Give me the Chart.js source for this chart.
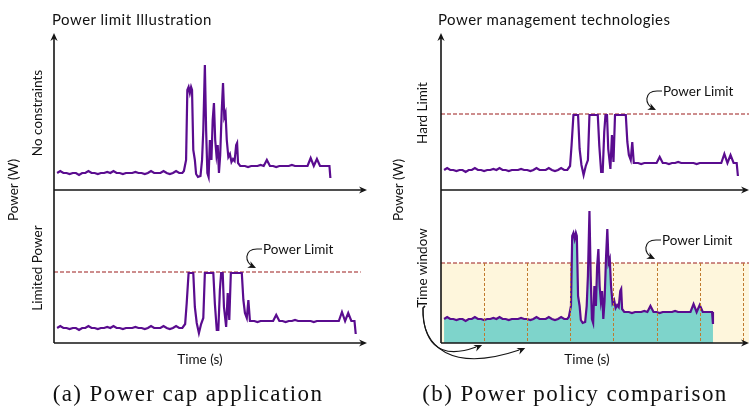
<!DOCTYPE html>
<html>
<head>
<meta charset="utf-8">
<script src="https://cdn.jsdelivr.net/npm/chart.js@4.4.1/dist/chart.umd.min.js"></script>
<style>
  body { margin: 0; width: 749px; height: 408px; background: #fff; position: relative; overflow: hidden;
         font-family: Lato, "Noto Sans", sans-serif; color: #111; }
  canvas { position: absolute; }
  .t { position: absolute; white-space: nowrap; font-size: 13.5px; line-height: 1; }
  .r { transform: translate(-50%, -50%) rotate(-90deg); }
  .c { transform: translate(-50%, -50%); }
  .l { transform: translateY(-50%); }
  .ttl { font-size: 15px; letter-spacing: 0.5px; }
  .cap { position: absolute; white-space: nowrap; font-family: "Liberation Serif", serif; font-size: 23px;
         letter-spacing: 1.4px; line-height: 1; transform: translate(-50%, -50%); }
</style>
</head>
<body>
<canvas id="aTop" width="375" height="170" style="left:0;top:25px"></canvas>
<canvas id="aBot" width="375" height="160" style="left:0;top:190px"></canvas>
<canvas id="bTop" width="374" height="170" style="left:375px;top:25px"></canvas>
<canvas id="bBot" width="374" height="190" style="left:375px;top:190px"></canvas>

<div class="t l ttl" style="left:52px;top:19px">Power limit Illustration</div>
<div class="t l ttl" style="left:438px;top:19px">Power management technologies</div>

<div class="t r" style="left:14px;top:190px">Power (W)</div>
<div class="t r" style="left:38px;top:113px">No constraints</div>
<div class="t r" style="left:38px;top:268px">Limited Power</div>
<div class="t r" style="left:399px;top:190px">Power (W)</div>
<div class="t r" style="left:423px;top:113px">Hard Limit</div>
<div class="t r" style="left:423px;top:268px">Time window</div>

<div class="t l" style="left:263px;top:250px">Power Limit</div>
<div class="t l" style="left:663px;top:92px">Power Limit</div>
<div class="t l" style="left:662px;top:241px">Power Limit</div>

<div class="t c" style="left:200px;top:360px">Time (s)</div>
<div class="t c" style="left:587px;top:360px">Time (s)</div>

<div class="cap" style="left:188px;top:393px">(a) Power cap application</div>
<div class="cap" style="left:575px;top:393px">(b) Power policy comparison</div>

<script>
// idle phase, shared by both runs
const baseTime = [1, 2, 3, 4, 5, 6, 7, 8, 9, 10, 11, 12, 13, 14, 15, 16, 17, 18, 19, 20,
  21, 22, 23, 24, 25, 26, 27, 28, 29, 30, 31, 32, 33, 34, 35, 36, 37, 38, 39, 40, 41];
const basePower = [17, 19, 17, 17, 16, 17, 17, 15, 17, 17, 19, 17, 17, 16, 17, 17, 18, 17, 19, 17,
  17, 16, 17, 17, 17, 18, 17, 17, 16, 17, 19, 17, 17, 17, 19, 17, 16, 17, 19, 17, 17];

// unconstrained run
const freeTime = [41.5, 42.2, 42.6, 43.0, 43.4, 43.8, 44.1, 44.5, 45.0, 45.4, 46.0, 46.8, 47.3, 47.7,
  48.2, 48.6, 49.0, 49.4, 49.8, 50.3, 50.7, 51.1, 51.5, 51.9, 52.3, 52.7, 53.1, 53.6, 54.0, 54.4,
  54.8, 55.2, 55.7, 56.2, 56.7, 57.2, 57.7, 58.2, 58.5, 58.8, 59.5,
  60, 61, 62, 63, 64, 65, 66, 67, 68, 69, 70, 71, 72, 73, 74, 75, 76, 77, 78, 79, 80, 81, 82,
  83, 84, 85, 86, 87, 88, 88.3];
const freePower = [19, 30, 100, 103, 97, 103, 100, 40, 30, 16, 13, 14, 30, 60,
  125, 60, 17, 13, 50, 30, 70, 87, 50, 35, 45, 17, 35, 80, 107, 73,
  77, 50, 33, 36, 28, 31, 29, 45, 47, 27, 24,
  24, 24, 23, 24, 24, 24, 25, 24, 30, 24, 24, 23, 24, 24, 24, 24, 25, 24, 24, 24, 24, 24, 32,
  24, 31, 24, 24, 24, 24, 12];

// same run under the power cap
const capTime = [41.9, 42.4, 43.0, 44.5, 45.0, 45.6, 46.3, 47.0, 47.7, 48.2, 50.9, 51.4, 52.0, 52.5,
  53.0, 53.4, 53.9, 54.3, 55.0, 55.5, 56.0, 56.5, 60.0, 60.5, 61.0, 61.6, 62.1, 62.6,
  63, 64, 65, 66, 67, 68, 69, 70, 71, 72, 73, 74, 75, 76, 77, 78, 79, 80, 81, 82, 83, 84, 85,
  86, 87, 88, 89, 90, 91, 92, 93, 94, 95, 96, 96.4];
const capPower = [21, 42, 72, 72, 38, 22, 12, 21, 27, 72, 72, 41, 15, 15,
  55, 72, 72, 38, 18, 52, 25, 72, 72, 45, 32, 27, 45, 24,
  24, 24, 23, 24, 24, 24, 24, 24, 30, 24, 24, 23, 24, 24, 25, 24, 24, 24, 24, 24, 23, 24, 24,
  24, 24, 24, 24, 24, 24, 33, 24, 32, 24, 24, 11];

const powerLimit = 73;
const limitSpan = [0, 98, 100];
const windowTicks = [14, 28, 42, 56, 70, 84, 98];

const PURPLE = '#5a0c8f';
const LIMIT_RED = '#9c1c1c';

const toXY = (ts, vs) => ts.map((t, i) => ({ x: t, y: vs[i] }));
const freeData = toXY(baseTime.concat(freeTime), basePower.concat(freePower));
const capData = toXY(baseTime.concat(capTime), basePower.concat(capPower));

function arrowHead(ctx, x, y, ang) {
  ctx.save();
  ctx.translate(x, y);
  ctx.rotate(ang);
  ctx.beginPath();
  ctx.moveTo(0, 0);
  ctx.lineTo(-8, -3.6);
  ctx.lineTo(-5.5, 0);
  ctx.lineTo(-8, 3.6);
  ctx.closePath();
  ctx.fill();
  ctx.restore();
}

// axes with arrows, window markers and the hand-drawn style callouts
const sketch = {
  id: 'sketch',
  afterDatasetsDraw(chart, args, o) {
    if (!o.windows) return;
    const { ctx, chartArea: a, scales: { x, y } } = chart;
    ctx.save();
    ctx.strokeStyle = '#c07a2e';
    ctx.lineWidth = 1;
    ctx.setLineDash([3, 2]);
    const top = y.getPixelForValue(powerLimit);
    windowTicks.forEach(t => {
      const px = Math.round(x.getPixelForValue(t)) + 0.5;
      ctx.beginPath();
      ctx.moveTo(px, top);
      ctx.lineTo(px, a.bottom);
      ctx.stroke();
    });
    ctx.restore();
  },
  afterDraw(chart, args, o) {
    const { ctx, chartArea: a, scales: { x, y } } = chart;
    ctx.save();
    ctx.strokeStyle = '#151515';
    ctx.fillStyle = '#151515';
    ctx.lineWidth = 1.6;
    ctx.beginPath();
    ctx.moveTo(a.left, a.bottom);
    ctx.lineTo(a.right - 4, a.bottom);
    ctx.stroke();
    arrowHead(ctx, a.right, a.bottom, 0);
    const yTop = o.up ? a.top - 7 : 0;
    ctx.beginPath();
    ctx.moveTo(a.left, a.bottom);
    ctx.lineTo(a.left, o.up ? yTop + 4 : yTop);
    ctx.stroke();
    if (o.up) arrowHead(ctx, a.left, yTop, -Math.PI / 2);

    ctx.lineWidth = 1.1;
    if (o.labelX) {
      const L = o.labelX, T = y.getPixelForValue(powerLimit) - 22;
      ctx.beginPath();
      ctx.moveTo(L - 1, T - 1);
      ctx.lineTo(L - 6, T - 1);
      ctx.bezierCurveTo(L - 19, T - 1, L - 19, T + 13, L - 9, T + 17);
      ctx.stroke();
      arrowHead(ctx, L - 7, T + 18, 0.45);
    }
    if (o.windows) {
      const sx = 48, sy = 118;
      [[14, 0], [28, 3]].forEach(([t, d]) => {
        const hx = x.getPixelForValue(t) - 2, hy = a.bottom + 2 + d;
        ctx.beginPath();
        ctx.moveTo(sx + 2, sy - 2);
        ctx.lineTo(sx, sy);
        ctx.bezierCurveTo(sx - d * 0.7, sy + 30 + d * 3.3, sx + 12 + d * 6, a.bottom + 19 + d * 3.5, hx - 6, hy + 2);
        ctx.stroke();
        arrowHead(ctx, hx, hy, -0.42);
      });
    }
    ctx.restore();
  }
};

function plot(id, datasets, yMin, padding, opts) {
  return new Chart(document.getElementById(id), {
    type: 'line',
    data: { datasets },
    options: {
      responsive: false,
      animation: false,
      layout: { padding },
      elements: { point: { radius: 0 }, line: { tension: 0 } },
      scales: {
        x: { type: 'linear', min: 0, max: 100, display: false },
        y: { min: yMin, max: yMin + 150, display: false }
      },
      plugins: { legend: { display: false }, tooltip: { enabled: false }, sketch: opts }
    },
    plugins: [sketch]
  });
}

const runLine = (data, extra) => Object.assign({ data, borderColor: PURPLE, borderWidth: 2.2, fill: false }, extra);
const limitLine = (end, extra) => Object.assign({
  data: [{ x: 0, y: powerLimit }, { x: end, y: powerLimit }],
  borderColor: LIMIT_RED, borderWidth: 1.2, borderDash: [4, 2], fill: false
}, extra);

plot('aTop', [runLine(freeData)], 0,
  { left: 54, right: 8, top: 15, bottom: 5 }, { up: true });
plot('aBot', [runLine(capData, { order: 1 }), limitLine(limitSpan[1], { order: 2 })], 2,
  { left: 54, right: 8, top: 3, bottom: 7 }, { labelX: 263 });
plot('bTop', [runLine(capData, { order: 1 }), limitLine(limitSpan[2], { order: 2 })], -3,
  { left: 66, right: 0, top: 15, bottom: 5 }, { up: true, labelX: 288 });
plot('bBot', [
  runLine(freeData, { order: 1, fill: 'start', backgroundColor: '#7ed4cb' }),
  limitLine(limitSpan[2], { order: 2, fill: 'start', backgroundColor: '#fef6dc' })
], -7, { left: 66, right: 0, top: 3, bottom: 37 }, { labelX: 287, windows: true });
</script>
</body>
</html>
